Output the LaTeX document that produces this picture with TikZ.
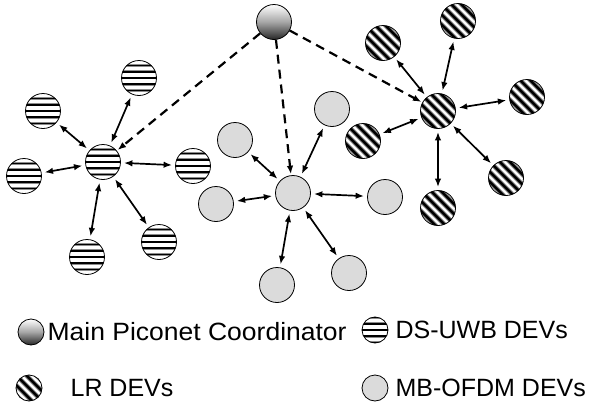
\documentclass[tikz,border=0pt]{standalone}
\usepackage{fontspec}
\setmainfont{Liberation Sans}
\usepackage{xcolor}
\usetikzlibrary{positioning}
\usetikzlibrary{arrows.meta}

\tikzset{
  pnc/.style={top color=white, bottom color=black!85, middle color=black!35},
  dsuwb/.style={fill=white, path picture={
      \foreach \k in {-2,...,2} {
        \draw[line width=2.8pt, black!45] ([yshift=\k*6.2pt]path picture bounding box.west) -- ([yshift=\k*6.2pt]path picture bounding box.east);
        \draw[line width=1.5pt, black] ([yshift=\k*6.2pt]path picture bounding box.west) -- ([yshift=\k*6.2pt]path picture bounding box.east);
      }}},
  lrdev/.style={fill=white, path picture={
      \foreach \k in {-4,...,4} {
        \draw[line width=4.6pt, black!40] ([xshift=\k*10pt-25pt, yshift=25pt]path picture bounding box.center) -- ([xshift=\k*10pt+25pt, yshift=-25pt]path picture bounding box.center);
        \draw[line width=2.6pt, black] ([xshift=\k*10pt-25pt, yshift=25pt]path picture bounding box.center) -- ([xshift=\k*10pt+25pt, yshift=-25pt]path picture bounding box.center);
      }}},
  mbofdm/.style={fill=black!14}
}

\begin{document}
\begin{tikzpicture}[x=1pt, y=-1pt, >={Latex[length=8.5pt,width=6.5pt]}]
\useasboundingbox (0,0) rectangle (592,402);

\begin{scope}[every node/.style={circle,draw,line width=0.8pt,minimum size=35pt,inner sep=0pt}]
   \node[pnc] (pc) at (274,22) {};

   % DS-UWB piconet
   \node[dsuwb] (d0) at (103,162) {};
   \node[dsuwb] (d1) at (139,78) {};
   \node[dsuwb] (d2) at (43,111) {};
   \node[dsuwb] (d3) at (24,176) {};
   \node[dsuwb] (d4) at (193,166) {};
   \node[dsuwb] (d5) at (87,257) {};
   \node[dsuwb] (d6) at (159,242) {};

   % MB-OFDM piconet
   \node[mbofdm] (m0) at (293,193) {};
   \node[mbofdm] (m1) at (235,140) {};
   \node[mbofdm] (m2) at (216,204) {};
   \node[mbofdm] (m3) at (277,285) {};
   \node[mbofdm] (m4) at (332,109) {};
   \node[mbofdm] (m5) at (385,197) {};
   \node[mbofdm] (m6) at (349,273) {};

   % LR piconet
   \node[lrdev] (l0) at (438,111) {};
   \node[lrdev] (l1) at (383,43) {};
   \node[lrdev] (l2) at (458,21) {};
   \node[lrdev] (l3) at (527,97) {};
   \node[lrdev] (l4) at (363,141) {};
   \node[lrdev] (l5) at (506,178) {};
   \node[lrdev] (l6) at (438,208) {};
\end{scope}

\begin{scope}[every edge/.style={draw, line width=2.2pt, dash pattern=on 9pt off 6pt, shorten >=1pt}]
   \path [->] (pc) edge (d0);
   \path [->] (pc) edge (m0);
   \path [->] (pc) edge (l0);
\end{scope}

\begin{scope}[every edge/.style={draw, line width=1.7pt, shorten >=3pt, shorten <=3pt}]
   \foreach \i in {1,...,6} {
     \path [<->] (d0) edge (d\i);
     \path [<->] (m0) edge (m\i);
     \path [<->] (l0) edge (l\i);
   }
\end{scope}

% legend
\begin{scope}[every node/.style={circle,draw,line width=0.8pt,minimum size=26pt,inner sep=0pt}]
   \node[pnc] (kpc) at (31,332) {};
   \node[dsuwb] (kds) at (375,330) {};
   \node[lrdev] (klr) at (29,388) {};
   \node[mbofdm] (kmb) at (375,388) {};
\end{scope}

\begin{scope}[every node/.style={inner sep=0pt, font=\fontsize{25}{30}\selectfont}]
   \node[right=3pt of kpc] (tpc) {\scalebox{1.06}[1]{Main Piconet Coordinator}};
   \node[right=7pt of kds] (tds) {DS-UWB DEVs};
   \node[right=28pt of klr] (tlr) {LR DEVs};
   \node[right=7pt of kmb] (tmb) {MB-OFDM DEVs};
\end{scope}
\end{tikzpicture}
\end{document}
